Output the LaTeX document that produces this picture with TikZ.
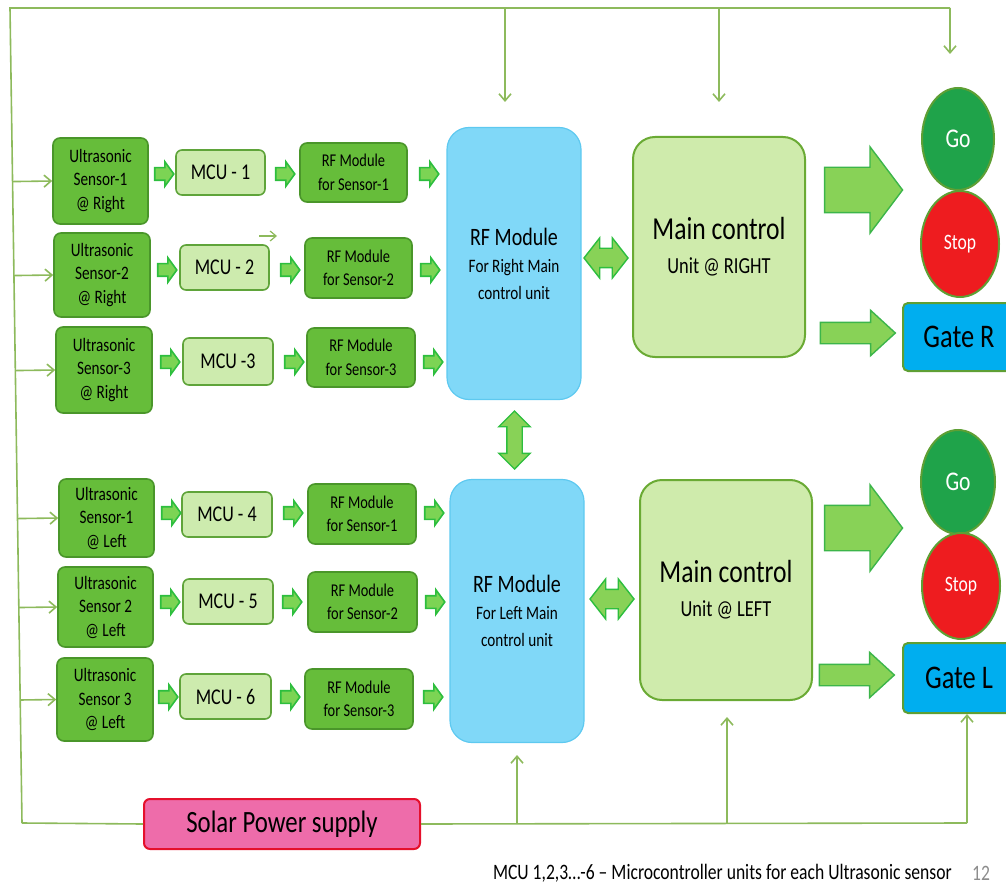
\documentclass[tikz,border=0pt]{standalone}
\usepackage{fontspec}
\setmainfont{Carlito}[FakeStretch=0.8]
\usetikzlibrary{shapes.arrows,shapes.geometric,arrows.meta,calc}
\definecolor{sensorfill}{HTML}{66BD3A}
\definecolor{sensorline}{HTML}{4A962A}
\definecolor{mcufill}{HTML}{CDEBAE}
\definecolor{mculine}{HTML}{5FA43A}
\definecolor{rffill}{HTML}{80D8F8}
\definecolor{rfline}{HTML}{5EC9F0}
\definecolor{mainfill}{HTML}{CFEBAC}
\definecolor{mainline}{HTML}{6AAA34}
\definecolor{flowfill}{HTML}{7CD454}
\definecolor{flowline}{HTML}{2DBE3E}
\definecolor{bigfill}{HTML}{88D257}
\definecolor{bigline}{HTML}{3CB54A}
\definecolor{gofill}{HTML}{1FA34A}
\definecolor{stopfill}{HTML}{EE1C1F}
\definecolor{gatefill}{HTML}{00AEEF}
\definecolor{lampline}{HTML}{5E9F34}
\definecolor{solarfill}{HTML}{EE6CAA}
\definecolor{solarline}{HTML}{E5102C}
\definecolor{wire}{HTML}{8DBA5C}
\definecolor{pagenum}{HTML}{8C8C8C}

\tikzset{
  dims/.style 2 args={minimum width=#1, minimum height=#2},
  sensorbox/.style={draw=sensorline, fill=sensorfill, line width=1.6pt, rounded corners=7pt,
    align=center, inner sep=0pt, font=\fontsize{19}{23.5}\selectfont},
  rfsmall/.style={sensorbox, font=\fontsize{18}{23.5}\selectfont},
  mcubox/.style={draw=mculine, fill=mcufill, line width=1.6pt, rounded corners=6pt,
    inner sep=0pt, font=\fontsize{22.5}{24}\selectfont},
  hubbox/.style={draw=rfline, fill=rffill, line width=1.2pt, rounded corners=22pt,
    align=center, inner sep=0pt, font=\fontsize{19}{27}\selectfont},
  mainbox/.style={draw=mainline, fill=mainfill, line width=2pt, rounded corners=22pt,
    align=center, inner sep=0pt, font=\fontsize{23}{34}\selectfont},
  lamp/.style={ellipse, draw=lampline, line width=2pt, inner sep=0pt, text=white},
  gatebox/.style={draw=lampline, fill=gatefill, line width=2pt, rounded corners=5pt,
    inner sep=0pt, font=\fontsize{33}{34}\selectfont},
  solarbox/.style={draw=solarline, fill=solarfill, line width=2pt, rounded corners=6pt,
    inner sep=0pt, font=\fontsize{31}{32}\selectfont},
  flow/.style={single arrow, draw=flowline, fill=flowfill, line width=1.6pt,
    inner xsep=0pt, inner ysep=5.5pt, single arrow head extend=6pt,
    single arrow tip angle=108, minimum height=19pt},
  bigflow/.style={single arrow, draw=bigline, fill=bigfill, line width=1.4pt,
    inner xsep=0pt, inner ysep=22pt, single arrow head extend=20.5pt,
    single arrow tip angle=106, minimum height=78pt},
  gateflow/.style={single arrow, draw=bigline, fill=bigfill, line width=1.4pt,
    inner xsep=0pt, inner ysep=10pt, single arrow head extend=12pt,
    single arrow tip angle=85, minimum height=75pt},
  link/.style={double arrow, draw=flowline, fill=bigfill, line width=1.4pt,
    inner xsep=0pt, inner ysep=9pt, double arrow head extend=10.5pt,
    double arrow tip angle=104, minimum height=44pt},
  wire/.style={draw=wire, line width=1.6pt},
  feed/.style={wire, -{Straight Barb[length=7pt,width=12pt]}},
}

\begin{document}
\begin{tikzpicture}[x=1pt, y=-1pt]
\useasboundingbox (0,0) rectangle (1006,885);

% ---------- sensors (right side) ----------
\node[sensorbox, dims={95pt}{86pt}] (s1) at (100.5,181) {Ultrasonic\\Sensor-1\\@ Right};
\node[sensorbox, dims={96pt}{84pt}] (s2) at (102,275) {Ultrasonic\\Sensor-2\\@ Right};
\node[sensorbox, dims={96pt}{86pt}] (s3) at (104,370) {Ultrasonic\\Sensor-3\\@ Right};
% ---------- sensors (left side) ----------
\node[sensorbox, dims={95pt}{78pt}] (s4) at (106.5,518) {Ultrasonic\\Sensor-1\\@ Left};
\node[sensorbox, dims={95pt}{80pt}] (s5) at (105.5,607) {Ultrasonic\\Sensor 2\\@ Left};
\node[sensorbox, dims={96pt}{83pt}] (s6) at (105,699.5) {Ultrasonic\\Sensor 3\\@ Left};

% ---------- microcontrollers ----------
\node[mcubox, dims={89pt}{45pt}] (m1) at (220.5,172.5) {MCU - 1};
\node[mcubox, dims={89pt}{45pt}] (m2) at (224.5,267.5) {MCU - 2};
\node[mcubox, dims={90pt}{47pt}] (m3) at (228,361.5) {MCU -3};
\node[mcubox, dims={90pt}{45pt}] (m4) at (227,514.5) {MCU - 4};
\node[mcubox, dims={90pt}{45pt}] (m5) at (228,601.5) {MCU - 5};
\node[mcubox, dims={91pt}{45pt}] (m6) at (225.5,696.5) {MCU - 6};

% ---------- per-sensor RF modules ----------
\node[rfsmall, dims={107pt}{59pt}] (r1) at (353.5,172.5) {RF Module\\for Sensor-1};
\node[rfsmall, dims={107pt}{60pt}] (r2) at (358.5,268) {RF Module\\for Sensor-2};
\node[rfsmall, dims={108pt}{59pt}] (r3) at (361,357.5) {RF Module\\for Sensor-3};
\node[rfsmall, dims={108pt}{60pt}] (r4) at (362,514) {RF Module\\for Sensor-1};
\node[rfsmall, dims={109pt}{60pt}] (r5) at (362.5,602) {RF Module\\for Sensor-2};
\node[rfsmall, dims={108pt}{60pt}] (r6) at (359,699) {RF Module\\for Sensor-3};

% ---------- RF hubs ----------
\node[hubbox, dims={134pt}{272pt}] (hubR) at (514,263.5)
  {{\fontsize{25}{27}\selectfont RF Module}\\For Right Main\\control unit};
\node[hubbox, dims={134pt}{263pt}] (hubL) at (517,611)
  {{\fontsize{25}{27}\selectfont RF Module}\\For Left Main\\control unit};

% ---------- main control units ----------
\node[mainbox, dims={172pt}{220pt}] (mainR) at (719,247)
  {{\fontsize{32}{34}\selectfont Main control}\\Unit @ RIGHT};
\node[mainbox, dims={172pt}{220pt}] (mainL) at (726,590)
  {{\fontsize{32}{34}\selectfont Main control}\\Unit @ LEFT};

% ---------- signals and gates ----------
\node[lamp, fill=gofill, dims={72pt}{102pt}, font=\fontsize{27}{28}\selectfont] (goR) at (958,139) {Go};
\node[lamp, fill=stopfill, dims={78pt}{106pt}, font=\fontsize{22}{24}\selectfont] (stopR) at (960,244) {Stop};
\node[gatebox, dims={112pt}{68pt}] (gateR) at (959,337) {Gate R};
\node[lamp, fill=gofill, dims={74pt}{104pt}, font=\fontsize{27}{28}\selectfont] (goL) at (958,482) {Go};
\node[lamp, fill=stopfill, dims={78pt}{106pt}, font=\fontsize{22}{24}\selectfont] (stopL) at (961,586) {Stop};
\node[gatebox, dims={112pt}{70pt}] (gateL) at (959,678) {Gate L};

% ---------- power supply ----------
\node[solarbox, dims={276pt}{50pt}] (solar) at (282,824) {Solar Power supply};

% ---------- block arrows along the signal chain ----------
\foreach \row/\ya/\xa/\xb/\xc in {1/174/162/283/427, 2/270/165/288/428, 3/362/168/292/431,
                                   4/513/169/291/432, 5/602/168/290/433, 6/697/166/288/431} {
  \node[flow] (fa\row) at (\xa,\ya) {};
  \node[flow] (fb\row) at (\xb,\ya) {};
  \node[flow] (fc\row) at (\xc,\ya) {};
}
\node[link] (lkR) at (606,258) {};
\node[link] (lkL) at (612,599) {};
\node[link, rotate=90, minimum height=58pt, inner ysep=7pt, double arrow head extend=8pt,
      double arrow tip angle=90] (lkV) at (514.5,440) {};
\node[bigflow] (bgR) at (855,190) {};
\node[gateflow] (gtR) at (852,333) {};
\node[bigflow] (bgL) at (855,528) {};
\node[gateflow] (gtL) at (851,675) {};

% ---------- power wiring ----------
\coordinate (tl) at (10,8);
\coordinate (tr) at (950,8);
\coordinate (bl) at (22,823);
\coordinate (br) at (967,823);
\coordinate (dR) at (505,102);
\coordinate (dM) at (719,102);
\coordinate (dG) at (950,54);
\coordinate (uH) at (517,755);
\coordinate (uM) at (727,717);
\draw[wire] (bl) -- (tl) -- (tr);
\draw[wire] (bl) -- (solar.west);
\draw[wire] (solar.east) -- (br);
\draw[feed] (tr) -- (dG);
\draw[feed] (dR |- tl) -- (dR);
\draw[feed] (dM |- tl) -- (dM);
\draw[feed] (uH |- br) -- (uH);
\draw[feed] (uM |- br) -- (uM);
\draw[feed] (br) -- (gateL.south -| br);
\foreach \s in {s1,s2,s3,s4,s5,s6} {
  \draw[feed] ($(tl)!(\s.west)!(bl)$) -- (\s.west);
}
\coordinate (strayA) at (259,236);
\coordinate (strayB) at (277,236);
\draw[draw=wire, line width=1.2pt, -{Straight Barb[length=6pt,width=10pt]}] (strayA) -- (strayB);

% ---------- footnote ----------
\node[anchor=east, font=\fontsize{22}{24}\selectfont, inner sep=0pt] (note) at (952,873)
  {MCU 1,2,3\dots-6 -- Microcontroller units for each Ultrasonic sensor};
\node[anchor=west, font=\fontsize{22}{24}\selectfont, text=pagenum, inner sep=0pt] (pg) at (972,873) {12};
\end{tikzpicture}
\end{document}
